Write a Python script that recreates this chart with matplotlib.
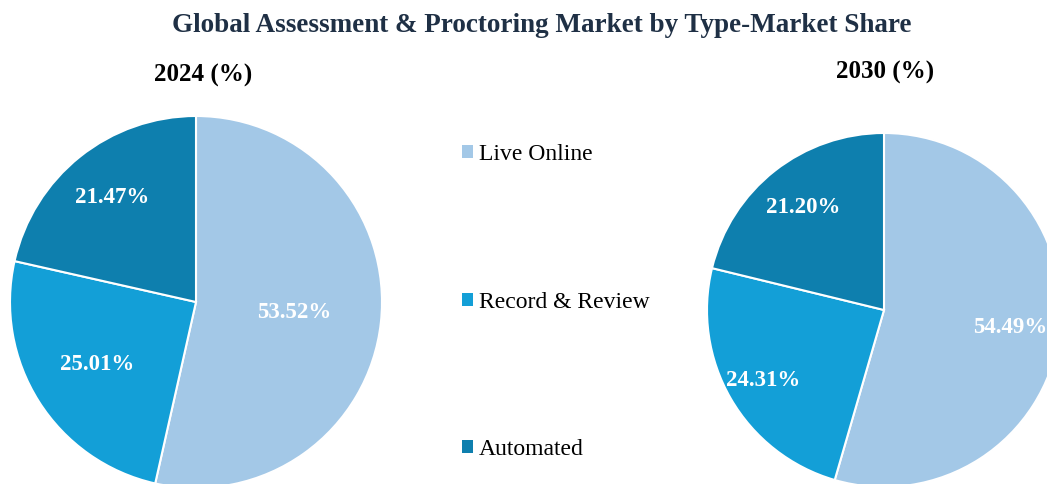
import matplotlib.pyplot as plt
from matplotlib.patches import Patch
import numpy as np

# Market share by type
types = ["Live Online", "Record & Review", "Automated"]
share_2024 = [53.52, 25.01, 21.47]
share_2030 = [54.49, 24.31, 21.20]
colors = ["#A3C8E7", "#139FD7", "#0E7FAE"]

plt.rcParams['font.family'] = ['Liberation Serif', 'DejaVu Serif']

fig = plt.figure(figsize=(10.47, 4.84), dpi=100)
W, H = 1047, 484


def pie_axes(cx, cy, r):
    # pixel centre/radius (top-left origin) -> figure fraction
    return fig.add_axes([(cx - r) / W, (H - cy - r) / H, 2 * r / W, 2 * r / H])


def draw_pie(ax, values, label_dist):
    wedges, _ = ax.pie(values, colors=colors, startangle=90, counterclock=False,
                       radius=1.0, wedgeprops=dict(edgecolor="white", linewidth=1.5))
    for w, v, d in zip(wedges, values, label_dist):
        ang = np.deg2rad((w.theta1 + w.theta2) / 2)
        ax.text(d * np.cos(ang), d * np.sin(ang), f"{v:.2f}%", ha="center", va="center",
                color="white", fontsize=16.5, fontweight="bold")
    ax.set_xlim(-1, 1)
    ax.set_ylim(-1, 1)
    return wedges


ax1 = pie_axes(196, 302, 186)
draw_pie(ax1, share_2024, [0.53, 0.63, 0.72])

ax2 = pie_axes(884, 310, 177)
draw_pie(ax2, share_2030, [0.72, 0.79, 0.74])

fig.text(542 / W, 1 - 26 / H, "Global Assessment & Proctoring Market by Type-Market Share",
         ha="center", va="center", fontsize=19.5, fontweight="bold", color="#1F3045")
fig.text(203 / W, 1 - 75 / H, "2024 (%)", ha="center", va="center", fontsize=18, fontweight="bold")
fig.text(885 / W, 1 - 72 / H, "2030 (%)", ha="center", va="center", fontsize=18, fontweight="bold")

handles = [Patch(facecolor=c, label=t) for c, t in zip(colors, types)]
fig.legend(handles=handles, loc="upper left", bbox_to_anchor=(441 / W, 1 - 123 / H),
           frameon=False, fontsize=17, handlelength=0.45, handleheight=0.45,
           handletextpad=0.25, labelspacing=5.35)

fig.savefig("out.png", dpi=100)
